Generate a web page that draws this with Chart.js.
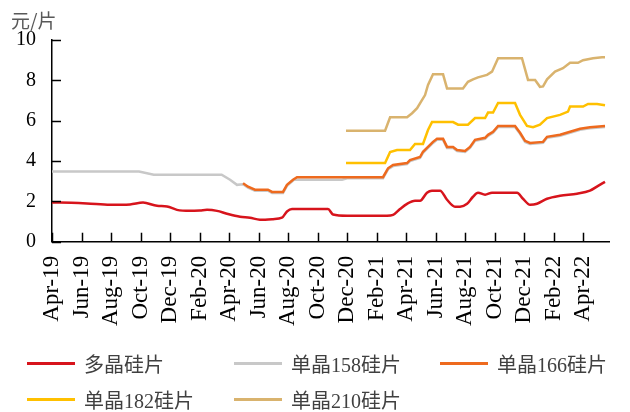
<!DOCTYPE html>
<html>
<head>
<meta charset="utf-8">
<script src="https://cdn.jsdelivr.net/npm/chart.js@4"></script>
<style>
  body { margin: 0; background: #fff; }
  #wrap { position: relative; width: 630px; height: 412px; }
  #unit { position: absolute; left: 11px; top: 6px; font: 19px "Noto Sans CJK SC", sans-serif; color: #595959; }
  .lg { position: absolute; display: flex; align-items: center; font: 20px "Liberation Serif", "Noto Sans CJK SC", serif; color: #404040; white-space: nowrap; }
  .lg span.ln { display: inline-block; width: 48px; height: 3px; margin-right: 9px; }
</style>
</head>
<body>
<div id="wrap">
  <canvas id="c" width="630" height="412"></canvas>
  <div id="unit">元/片</div>
  <div id="legend"></div>
</div>
<script>
const tickLabels = ['Apr-19', 'Jun-19', 'Aug-19', 'Oct-19', 'Dec-19', 'Feb-20', 'Apr-20', 'Jun-20', 'Aug-20', 'Oct-20',
    'Dec-20', 'Feb-21', 'Apr-21', 'Jun-21', 'Aug-21', 'Oct-21', 'Dec-21', 'Feb-22', 'Apr-22'];

// x = months since Apr-19
const polyX = [0, 0.54, 2.37, 3.93, 5.29, 6.17, 7.12, 7.8, 8.47, 9.36, 10.03, 10.51, 11.19, 11.86, 12.75, 13.42, 14.1, 14.98,
    15.59, 15.93, 16.27, 18.71, 19.05, 20.0, 22.71, 23.12, 23.59, 24.07, 24.61, 24.95, 25.42, 25.76, 26.31, 26.78, 27.32,
    27.66, 28.14, 28.54, 28.88, 29.36, 29.83, 31.53, 31.93, 32.41, 32.88, 33.56, 34.44, 35.59, 36.47, 37.02, 37.49];
const polyY = [1.94, 1.94, 1.9, 1.83, 1.85, 1.94, 1.78, 1.75, 1.58, 1.53, 1.55, 1.58, 1.53, 1.39, 1.24, 1.19, 1.09, 1.12,
    1.19, 1.5, 1.62, 1.62, 1.35, 1.29, 1.29, 1.33, 1.62, 1.88, 2.03, 2.03, 2.43, 2.53, 2.53, 2.08, 1.74,
    1.74, 1.88, 2.23, 2.43, 2.33, 2.43, 2.43, 2.13, 1.83, 1.88, 2.13, 2.28, 2.38, 2.53, 2.77, 2.97];

const m158X = [0, 5.9, 6.9, 11.5, 12.07, 12.54, 12.95, 13.29, 13.76, 14.64, 14.92, 15.66, 15.93, 16.4, 19.66, 20.0, 22.44,
    22.78, 23.12, 24.07, 24.27, 24.95, 25.15, 25.49, 25.83, 26.1, 26.51, 26.78, 27.19, 27.46, 28.0, 28.34, 28.68, 29.36,
    29.56, 29.9, 30.24, 31.39, 31.73, 32.07, 32.41, 33.29, 33.56, 34.44, 35.12, 35.8, 36.47, 37.49];
const m158Y = [3.48, 3.48, 3.32, 3.32, 3.07, 2.82, 2.85, 2.68, 2.53, 2.53, 2.42, 2.42, 2.77, 3.07, 3.07, 3.15, 3.15,
    3.59, 3.75, 3.85, 4.0, 4.15, 4.41, 4.65, 4.9, 5.05, 5.05, 4.65, 4.65, 4.5, 4.45, 4.65, 5.0, 5.1,
    5.25, 5.4, 5.69, 5.69, 5.35, 4.95, 4.85, 4.9, 5.15, 5.25, 5.4, 5.55, 5.63, 5.69];

const m166X = [12.95, 13.29, 13.76, 14.64, 14.92, 15.66, 15.93, 16.34, 16.61, 22.44, 22.78, 23.12, 24.07, 24.27, 24.95, 25.15,
    25.49, 25.83, 26.1, 26.51, 26.78, 27.19, 27.46, 28.0, 28.34, 28.68, 29.36, 29.56, 29.9, 30.24, 31.39, 31.73, 32.07,
    32.41, 33.29, 33.56, 34.44, 35.12, 35.8, 36.47, 37.49];
const m166Y = [2.9, 2.73, 2.58, 2.58, 2.47, 2.47, 2.82, 3.07, 3.2, 3.2, 3.64, 3.8, 3.9, 4.05, 4.2, 4.46,
    4.7, 4.95, 5.1, 5.1, 4.7, 4.7, 4.55, 4.5, 4.7, 5.05, 5.15, 5.3, 5.45, 5.74, 5.74, 5.4, 5.0,
    4.9, 4.95, 5.2, 5.3, 5.45, 5.6, 5.68, 5.74];

const m182X = [19.93, 22.58, 22.92, 23.39, 24.27, 24.61, 25.15, 25.49, 25.76, 27.19, 27.53, 28.2, 28.68, 29.36, 29.56, 29.9,
    30.24, 31.39, 31.73, 32.2, 32.61, 33.08, 33.56, 34.44, 34.98, 35.12, 36.0, 36.34, 36.95, 37.49];
const m182Y = [3.9, 3.9, 4.45, 4.55, 4.55, 4.85, 4.85, 5.54, 5.93, 5.93, 5.8, 5.8, 6.13, 6.13, 6.4, 6.4,
    6.88, 6.88, 6.29, 5.74, 5.68, 5.8, 6.13, 6.29, 6.45, 6.7, 6.7, 6.83, 6.83, 6.77];

const m210X = [19.93, 22.58, 22.92, 24.07, 24.41, 24.75, 25.08, 25.29, 25.49, 25.83, 26.51, 26.78, 27.86, 28.2, 28.54, 28.88,
    29.49, 29.83, 30.24, 31.86, 32.27, 32.75, 33.08, 33.29, 33.56, 34.1, 34.64, 35.12, 35.66, 36.0, 36.68, 37.29, 37.49];
const m210Y = [5.5, 5.5, 6.17, 6.17, 6.37, 6.62, 7.02, 7.27, 7.77, 8.3, 8.3, 7.6, 7.6, 7.93, 8.05, 8.15,
    8.27, 8.43, 9.1, 9.1, 8.02, 8.02, 7.68, 7.7, 8.05, 8.43, 8.6, 8.87, 8.87, 9.0, 9.1, 9.15, 9.15];

const pts = (xs, ys) => xs.map((x, i) => ({ x: x, y: ys[i] }));

const series = [
    { label: '多晶硅片', data: pts(polyX, polyY), color: '#D7141C', order: 0, smooth: true },
    { label: '单晶158硅片', data: pts(m158X, m158Y), color: '#C8C8C8', order: 3 },
    { label: '单晶166硅片', data: pts(m166X, m166Y), color: '#EE6A1E', order: 1 },
    { label: '单晶182硅片', data: pts(m182X, m182Y), color: '#FFC000', order: 1 },
    { label: '单晶210硅片', data: pts(m210X, m210Y), color: '#D9B36E', order: 1 }
];

const serif = '"Liberation Serif", "Times New Roman", serif';

// short tick marks pointing into the plot, as in the original
const insideTicks = {
    id: 'insideTicks',
    afterDraw(chart) {
        const { ctx, chartArea, scales } = chart;
        ctx.save();
        ctx.strokeStyle = '#000';
        ctx.lineWidth = 1.5;
        scales.y.ticks.forEach(t => {
            const py = Math.round(scales.y.getPixelForValue(t.value)) + 0.5;
            ctx.beginPath();
            ctx.moveTo(chartArea.left, py);
            ctx.lineTo(chartArea.left + 9, py);
            ctx.stroke();
        });
        scales.x.ticks.forEach(t => {
            const px = Math.round(scales.x.getPixelForValue(t.value)) + 0.5;
            ctx.beginPath();
            ctx.moveTo(px, chartArea.bottom);
            ctx.lineTo(px, chartArea.bottom - 9);
            ctx.stroke();
        });
        ctx.restore();
    }
};

new Chart(document.getElementById('c'), {
    type: 'line',
    data: {
        datasets: series.map(s => ({
            label: s.label,
            data: s.data,
            borderColor: s.color,
            backgroundColor: s.color,
            borderWidth: 2.5,
            pointRadius: 0,
            order: s.order,
            cubicInterpolationMode: s.smooth ? 'monotone' : 'default',
            tension: 0
        }))
    },
    options: {
        responsive: false,
        animation: false,
        layout: { padding: { left: 0, right: 21, top: 40, bottom: 72 } },
        plugins: { legend: { display: false }, tooltip: { enabled: false } },
        scales: {
            x: {
                type: 'linear',
                min: 0,
                max: 37.76,
                afterBuildTicks: s => { s.ticks = tickLabels.map((l, i) => ({ value: i * 2 })); },
                ticks: {
                    callback: (v, i) => tickLabels[i],
                    autoSkip: false,
                    maxRotation: 90,
                    minRotation: 90,
                    padding: 14,
                    color: '#000',
                    font: { family: serif, size: 23 }
                },
                grid: { display: false, drawTicks: false },
                border: { color: '#000', width: 1.5 }
            },
            y: {
                min: 0,
                max: 10,
                ticks: {
                    stepSize: 2,
                    padding: 16,
                    color: '#000',
                    font: { family: serif, size: 20 }
                },
                grid: { display: false, drawTicks: false },
                border: { color: '#000', width: 1.5 }
            }
        }
    },
    plugins: [insideTicks]
});

// legend laid out in a 3-column grid like the original
const legend = document.getElementById('legend');
const cols = [27, 234, 440];
const rows = [362, 398];
series.forEach((s, i) => {
    const d = document.createElement('div');
    d.className = 'lg';
    d.style.left = cols[i % 3] + 'px';
    d.style.top = (rows[Math.floor(i / 3)] - 13) + 'px';
    d.innerHTML = '<span class="ln" style="background:' + s.color + '"></span>' + s.label;
    legend.appendChild(d);
});
</script>
</body>
</html>
